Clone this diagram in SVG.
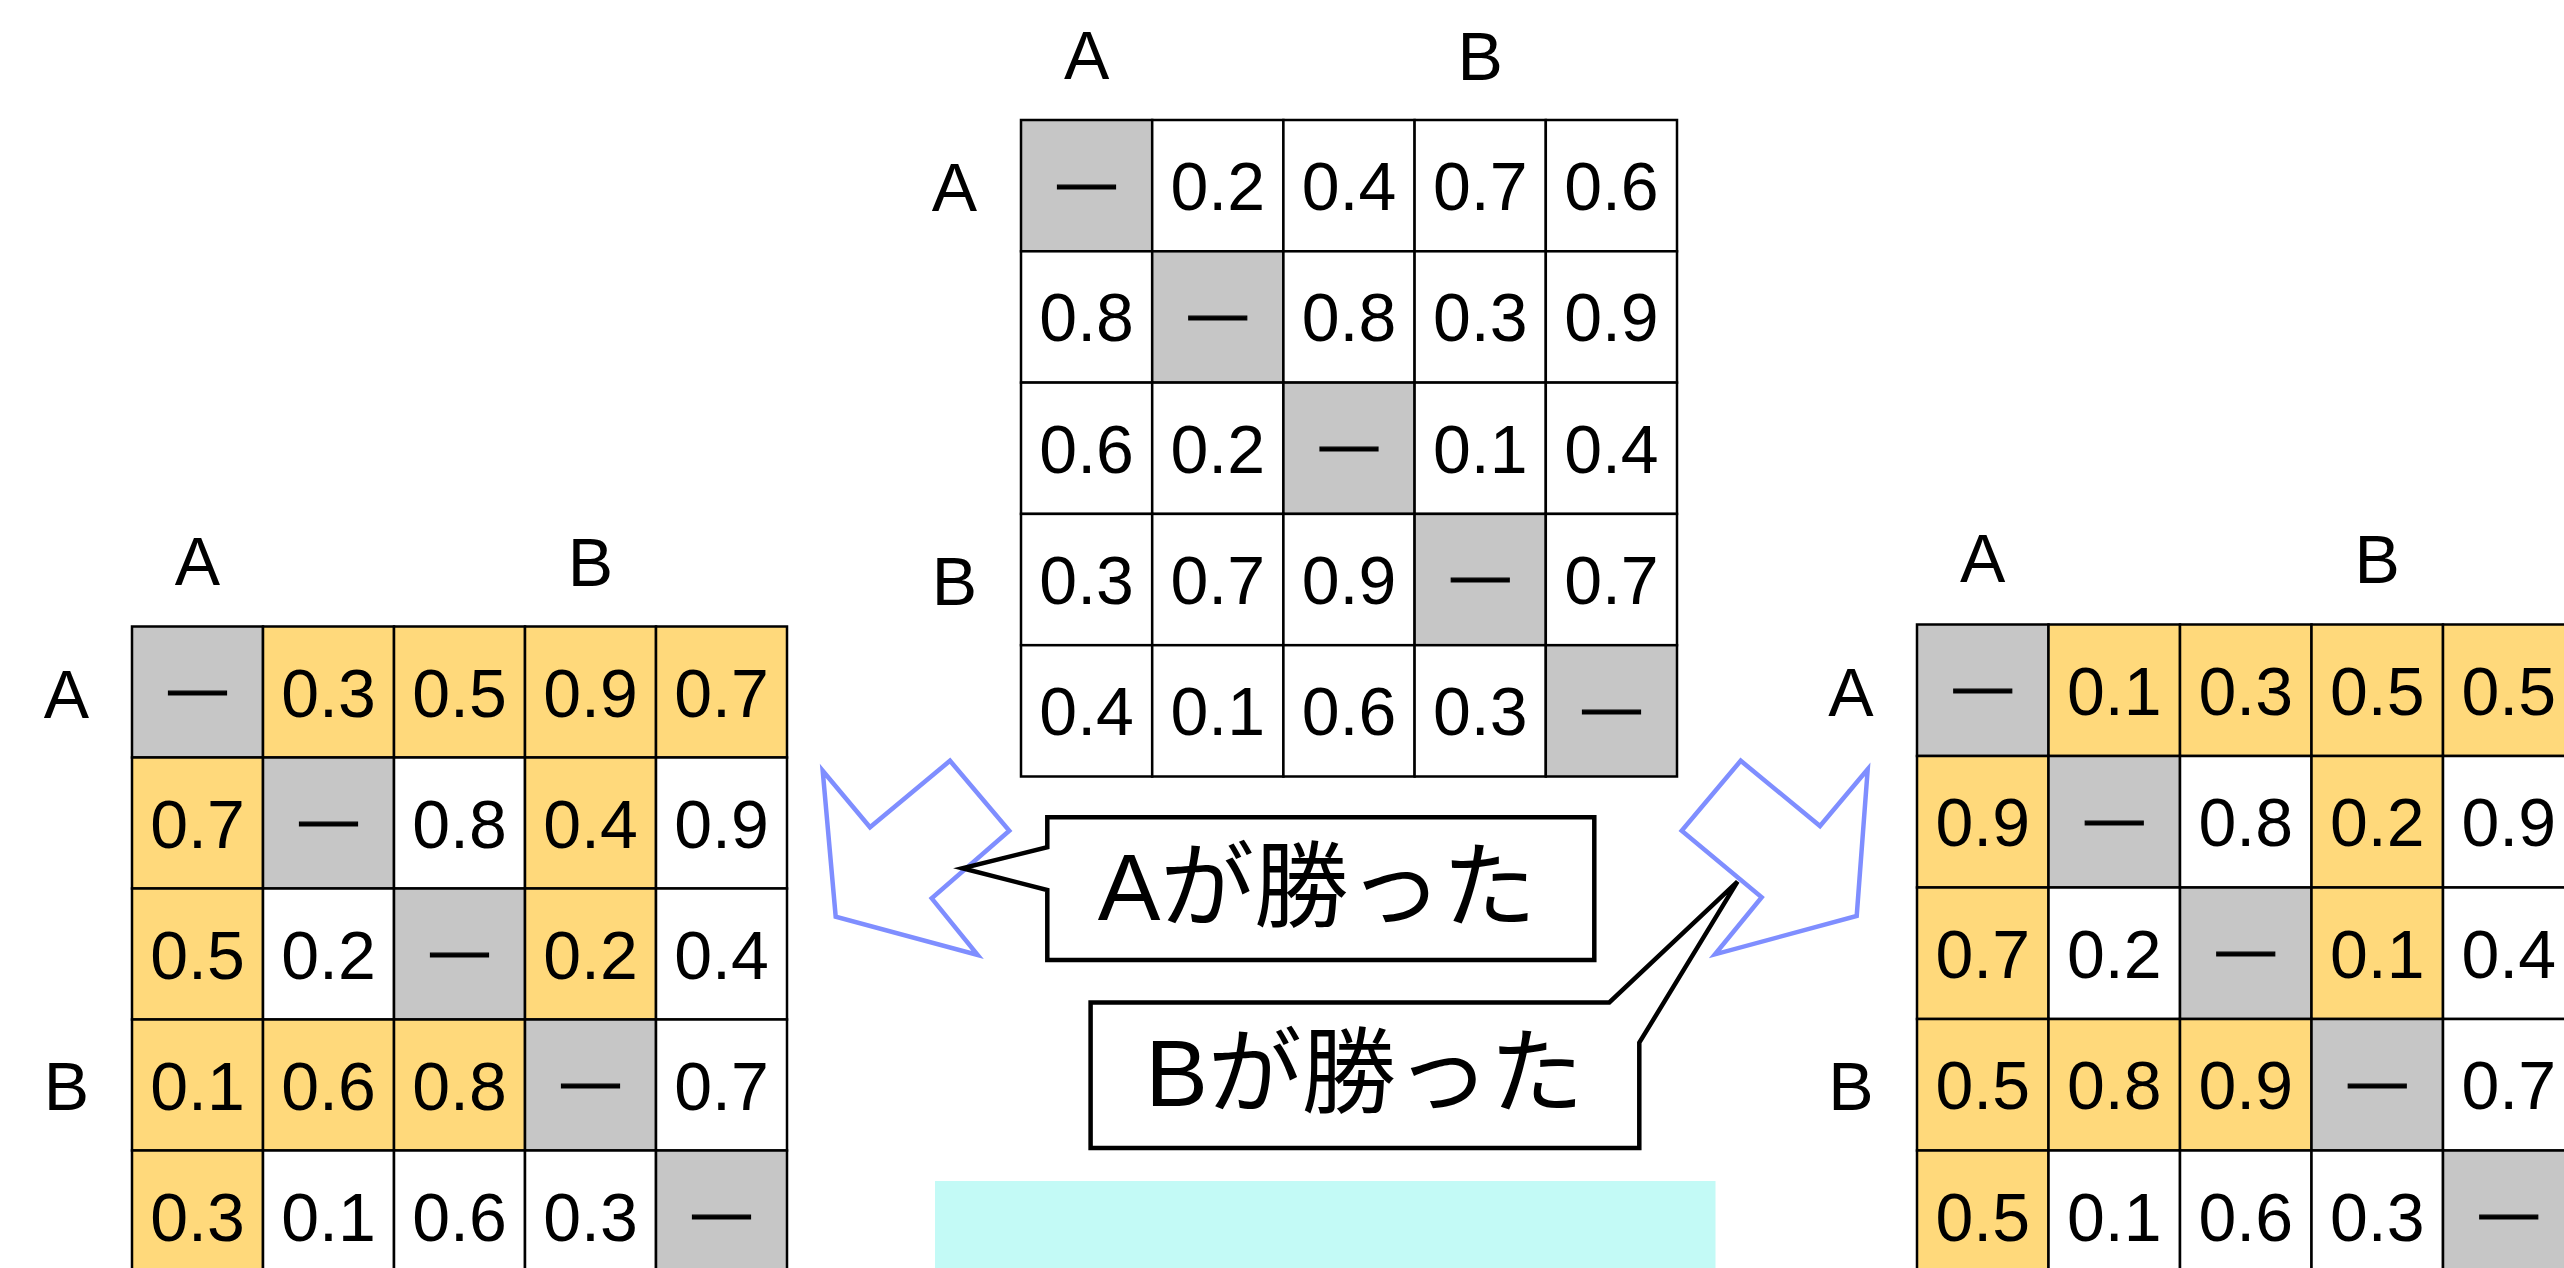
<svg xmlns="http://www.w3.org/2000/svg" width="2564" height="1268" viewBox="0 0 2564 1268">
<style>
text{font-family:"Liberation Sans","Noto Sans CJK JP",sans-serif;fill:#000}
.w{fill:#fff;stroke:#000;stroke-width:2.5}
.g{fill:#c6c6c6;stroke:#000;stroke-width:2.5}
.y{fill:#ffd97b;stroke:#000;stroke-width:2.5}
.n{font-size:68px;text-anchor:middle}
.d{font-size:58px;text-anchor:middle;stroke:#000;stroke-width:1.2}
.lb{font-size:68px;text-anchor:middle}
.cl{font-size:94px;text-anchor:middle}
.arrow{fill:none;stroke:#7f8eff;stroke-width:4.5;stroke-linejoin:miter}
.call{fill:#fff;stroke:#000;stroke-width:4.5;stroke-miterlimit:10}
</style>
<rect width="2564" height="1268" fill="#fff"/>

<g id="table-center">
<rect class="g" x="1021" y="120" width="131.2" height="131.3"/><rect class="w" x="1152.2" y="120" width="131.2" height="131.3"/><rect class="w" x="1283.4" y="120" width="131.2" height="131.3"/><rect class="w" x="1414.6" y="120" width="131.2" height="131.3"/><rect class="w" x="1545.8" y="120" width="131.2" height="131.3"/>
<rect class="w" x="1021" y="251.3" width="131.2" height="131.3"/><rect class="g" x="1152.2" y="251.3" width="131.2" height="131.3"/><rect class="w" x="1283.4" y="251.3" width="131.2" height="131.3"/><rect class="w" x="1414.6" y="251.3" width="131.2" height="131.3"/><rect class="w" x="1545.8" y="251.3" width="131.2" height="131.3"/>
<rect class="w" x="1021" y="382.6" width="131.2" height="131.3"/><rect class="w" x="1152.2" y="382.6" width="131.2" height="131.3"/><rect class="g" x="1283.4" y="382.6" width="131.2" height="131.3"/><rect class="w" x="1414.6" y="382.6" width="131.2" height="131.3"/><rect class="w" x="1545.8" y="382.6" width="131.2" height="131.3"/>
<rect class="w" x="1021" y="513.9" width="131.2" height="131.3"/><rect class="w" x="1152.2" y="513.9" width="131.2" height="131.3"/><rect class="w" x="1283.4" y="513.9" width="131.2" height="131.3"/><rect class="g" x="1414.6" y="513.9" width="131.2" height="131.3"/><rect class="w" x="1545.8" y="513.9" width="131.2" height="131.3"/>
<rect class="w" x="1021" y="645.2" width="131.2" height="131.3"/><rect class="w" x="1152.2" y="645.2" width="131.2" height="131.3"/><rect class="w" x="1283.4" y="645.2" width="131.2" height="131.3"/><rect class="w" x="1414.6" y="645.2" width="131.2" height="131.3"/><rect class="g" x="1545.8" y="645.2" width="131.2" height="131.3"/>
<text class="lb" x="1086.6" y="79">A</text><text class="lb" x="1480.2" y="79.5">B</text>
<text class="lb" x="954.5" y="210.5">A</text><text class="lb" x="954.5" y="604.5">B</text>
<text class="d" x="1086.6" y="201.5">—</text><text class="n" x="1217.8" y="210">0.2</text><text class="n" x="1349" y="210">0.4</text><text class="n" x="1480.2" y="210">0.7</text><text class="n" x="1611.4" y="210">0.6</text>
<text class="n" x="1086.6" y="341.3">0.8</text><text class="d" x="1217.8" y="332.8">—</text><text class="n" x="1349" y="341.3">0.8</text><text class="n" x="1480.2" y="341.3">0.3</text><text class="n" x="1611.4" y="341.3">0.9</text>
<text class="n" x="1086.6" y="472.6">0.6</text><text class="n" x="1217.8" y="472.6">0.2</text><text class="d" x="1349" y="464.1">—</text><text class="n" x="1480.2" y="472.6">0.1</text><text class="n" x="1611.4" y="472.6">0.4</text>
<text class="n" x="1086.6" y="603.9">0.3</text><text class="n" x="1217.8" y="603.9">0.7</text><text class="n" x="1349" y="603.9">0.9</text><text class="d" x="1480.2" y="595.4">—</text><text class="n" x="1611.4" y="603.9">0.7</text>
<text class="n" x="1086.6" y="735.2">0.4</text><text class="n" x="1217.8" y="735.2">0.1</text><text class="n" x="1349" y="735.2">0.6</text><text class="n" x="1480.2" y="735.2">0.3</text><text class="d" x="1611.4" y="726.7">—</text>
</g>

<g id="table-left">
<rect class="g" x="132" y="626.5" width="131" height="131"/><rect class="y" x="263" y="626.5" width="131" height="131"/><rect class="y" x="394" y="626.5" width="131" height="131"/><rect class="y" x="525" y="626.5" width="131" height="131"/><rect class="y" x="656" y="626.5" width="131" height="131"/>
<rect class="y" x="132" y="757.5" width="131" height="131"/><rect class="g" x="263" y="757.5" width="131" height="131"/><rect class="w" x="394" y="757.5" width="131" height="131"/><rect class="y" x="525" y="757.5" width="131" height="131"/><rect class="w" x="656" y="757.5" width="131" height="131"/>
<rect class="y" x="132" y="888.5" width="131" height="131"/><rect class="w" x="263" y="888.5" width="131" height="131"/><rect class="g" x="394" y="888.5" width="131" height="131"/><rect class="y" x="525" y="888.5" width="131" height="131"/><rect class="w" x="656" y="888.5" width="131" height="131"/>
<rect class="y" x="132" y="1019.5" width="131" height="131"/><rect class="y" x="263" y="1019.5" width="131" height="131"/><rect class="y" x="394" y="1019.5" width="131" height="131"/><rect class="g" x="525" y="1019.5" width="131" height="131"/><rect class="w" x="656" y="1019.5" width="131" height="131"/>
<rect class="y" x="132" y="1150.5" width="131" height="131"/><rect class="w" x="263" y="1150.5" width="131" height="131"/><rect class="w" x="394" y="1150.5" width="131" height="131"/><rect class="w" x="525" y="1150.5" width="131" height="131"/><rect class="g" x="656" y="1150.5" width="131" height="131"/>
<text class="lb" x="197.5" y="584.5">A</text><text class="lb" x="590.5" y="585.5">B</text>
<text class="lb" x="66.4" y="717.5">A</text><text class="lb" x="66.4" y="1110">B</text>
<text class="d" x="197.5" y="708">—</text><text class="n" x="328.5" y="716.5">0.3</text><text class="n" x="459.5" y="716.5">0.5</text><text class="n" x="590.5" y="716.5">0.9</text><text class="n" x="721.5" y="716.5">0.7</text>
<text class="n" x="197.5" y="847.5">0.7</text><text class="d" x="328.5" y="839">—</text><text class="n" x="459.5" y="847.5">0.8</text><text class="n" x="590.5" y="847.5">0.4</text><text class="n" x="721.5" y="847.5">0.9</text>
<text class="n" x="197.5" y="978.5">0.5</text><text class="n" x="328.5" y="978.5">0.2</text><text class="d" x="459.5" y="970">—</text><text class="n" x="590.5" y="978.5">0.2</text><text class="n" x="721.5" y="978.5">0.4</text>
<text class="n" x="197.5" y="1109.5">0.1</text><text class="n" x="328.5" y="1109.5">0.6</text><text class="n" x="459.5" y="1109.5">0.8</text><text class="d" x="590.5" y="1101">—</text><text class="n" x="721.5" y="1109.5">0.7</text>
<text class="n" x="197.5" y="1240.5">0.3</text><text class="n" x="328.5" y="1240.5">0.1</text><text class="n" x="459.5" y="1240.5">0.6</text><text class="n" x="590.5" y="1240.5">0.3</text><text class="d" x="721.5" y="1232">—</text>
</g>

<g id="table-right">
<rect class="g" x="1917" y="624.5" width="131.5" height="131.5"/><rect class="y" x="2048.5" y="624.5" width="131.5" height="131.5"/><rect class="y" x="2180" y="624.5" width="131.5" height="131.5"/><rect class="y" x="2311.5" y="624.5" width="131.5" height="131.5"/><rect class="y" x="2443" y="624.5" width="131.5" height="131.5"/>
<rect class="y" x="1917" y="756" width="131.5" height="131.5"/><rect class="g" x="2048.5" y="756" width="131.5" height="131.5"/><rect class="w" x="2180" y="756" width="131.5" height="131.5"/><rect class="y" x="2311.5" y="756" width="131.5" height="131.5"/><rect class="w" x="2443" y="756" width="131.5" height="131.5"/>
<rect class="y" x="1917" y="887.5" width="131.5" height="131.5"/><rect class="w" x="2048.5" y="887.5" width="131.5" height="131.5"/><rect class="g" x="2180" y="887.5" width="131.5" height="131.5"/><rect class="y" x="2311.5" y="887.5" width="131.5" height="131.5"/><rect class="w" x="2443" y="887.5" width="131.5" height="131.5"/>
<rect class="y" x="1917" y="1019" width="131.5" height="131.5"/><rect class="y" x="2048.5" y="1019" width="131.5" height="131.5"/><rect class="y" x="2180" y="1019" width="131.5" height="131.5"/><rect class="g" x="2311.5" y="1019" width="131.5" height="131.5"/><rect class="w" x="2443" y="1019" width="131.5" height="131.5"/>
<rect class="y" x="1917" y="1150.5" width="131.5" height="131.5"/><rect class="w" x="2048.5" y="1150.5" width="131.5" height="131.5"/><rect class="w" x="2180" y="1150.5" width="131.5" height="131.5"/><rect class="w" x="2311.5" y="1150.5" width="131.5" height="131.5"/><rect class="g" x="2443" y="1150.5" width="131.5" height="131.5"/>
<text class="lb" x="1982.75" y="582">A</text><text class="lb" x="2377.25" y="583">B</text>
<text class="lb" x="1851" y="716">A</text><text class="lb" x="1851" y="1110">B</text>
<text class="d" x="1982.75" y="706">—</text><text class="n" x="2114.25" y="714.5">0.1</text><text class="n" x="2245.75" y="714.5">0.3</text><text class="n" x="2377.25" y="714.5">0.5</text><text class="n" x="2508.75" y="714.5">0.5</text>
<text class="n" x="1982.75" y="846">0.9</text><text class="d" x="2114.25" y="837.5">—</text><text class="n" x="2245.75" y="846">0.8</text><text class="n" x="2377.25" y="846">0.2</text><text class="n" x="2508.75" y="846">0.9</text>
<text class="n" x="1982.75" y="977.5">0.7</text><text class="n" x="2114.25" y="977.5">0.2</text><text class="d" x="2245.75" y="969">—</text><text class="n" x="2377.25" y="977.5">0.1</text><text class="n" x="2508.75" y="977.5">0.4</text>
<text class="n" x="1982.75" y="1109">0.5</text><text class="n" x="2114.25" y="1109">0.8</text><text class="n" x="2245.75" y="1109">0.9</text><text class="d" x="2377.25" y="1100.5">—</text><text class="n" x="2508.75" y="1109">0.7</text>
<text class="n" x="1982.75" y="1240.5">0.5</text><text class="n" x="2114.25" y="1240.5">0.1</text><text class="n" x="2245.75" y="1240.5">0.6</text><text class="n" x="2377.25" y="1240.5">0.3</text><text class="d" x="2508.75" y="1232">—</text>
</g>

<g id="cyan-box">
<rect x="935" y="1181" width="780.5" height="87" fill="#c3faf6"/>
</g>

<g id="connectors">
<polygon class="arrow" points="822.7,770.7 870,827.3 950,760.7 1009.3,830.7 931.7,898.3 977.7,955 835.7,916.7"/>
<polygon class="arrow" points="1867.7,769.3 1820,826 1740.7,760.7 1681.7,830.7 1761.7,897.3 1715,954.3 1856.7,916"/>
</g>

<g id="callout-a">
<path class="call" d="M1047.3,817.3 H1594.3 V960 H1047.3 V890 L962.3,868.3 L1047.3,847.3 Z"/>
<text class="cl" x="1317" y="920">Aが勝った</text>
</g>

<g id="callout-b">
<path class="call" style="stroke-miterlimit:4" d="M1090.6,1002.5 H1609.3 L1737.5,881.7 L1639.3,1042.7 V1148 H1090.6 Z"/>
<text class="cl" x="1364.5" y="1106">Bが勝った</text>
</g>
</svg>
